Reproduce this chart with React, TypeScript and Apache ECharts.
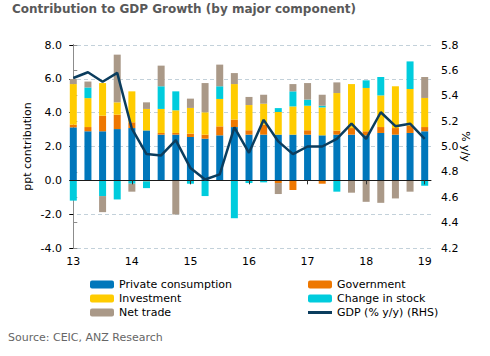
import React, { useEffect, useRef } from "react";
import * as echarts from "echarts";

const quarters = [
  "2013Q1","2013Q2","2013Q3","2013Q4","2014Q1","2014Q2","2014Q3","2014Q4",
  "2015Q1","2015Q2","2015Q3","2015Q4","2016Q1","2016Q2","2016Q3","2016Q4",
  "2017Q1","2017Q2","2017Q3","2017Q4","2018Q1","2018Q2","2018Q3","2018Q4","2019Q1",
];
const yearLabels = ["13", "14", "15", "16", "17", "18", "19"];
const yearTickIdx = [0, 4, 8, 12, 16, 20, 24];

const privateConsumption = [3.13,2.90,2.90,3.03,3.09,2.95,2.70,2.70,2.56,2.46,2.66,3.15,2.70,2.70,2.70,2.70,2.70,2.66,2.70,2.70,2.66,2.80,2.70,2.80,2.90];
const government = [0.16,0.25,0.92,0.85,0.34,-0.06,0.10,0.10,0.20,0.24,0.53,0.44,0.26,0.59,-0.16,-0.57,0.26,-0.20,0.24,0.39,0.24,0.35,0.39,0.43,0.25];
const investment = [2.40,1.71,1.93,0.73,1.83,1.27,1.42,1.34,1.52,1.32,1.62,2.10,1.49,1.24,1.34,1.67,1.45,1.65,2.22,2.60,2.56,1.87,2.47,2.17,1.72];
const changeInStock = [-1.20,0.63,-0.93,-1.13,-0.20,-0.40,1.34,1.12,-0.20,-0.93,0.75,-2.24,-0.16,-0.12,0.23,0.89,0.36,0.10,-0.67,0,0.45,1.09,0,1.63,-0.32];
const netTrade = [0.30,0.35,-0.95,2.82,-0.47,0.39,1.22,-2.02,0.55,1.73,1.28,0.65,0.48,0.53,-0.65,0.43,0.98,0.65,0.63,-0.73,-1.27,-1.33,-1.07,-0.67,1.24];
const gdpYoY = [5.54,5.585,5.51,5.58,5.14,4.94,4.93,5.05,4.83,4.74,4.78,5.15,4.95,5.21,5.04,4.94,5.00,5.00,5.06,5.18,5.06,5.27,5.16,5.18,5.06];

const FONT = "DejaVu Sans";

export default function App() {
  const ref = useRef<HTMLDivElement>(null);
  useEffect(() => {
    document.body.style.margin = "0";
    const chart = echarts.init(ref.current!, null, { renderer: "svg" });
    const bar = (name: string, data: number[], color: string) => ({
      name,
      type: "bar",
      stack: "total",
      barWidth: 7,
      clip: false,
      xAxisIndex: 0,
      yAxisIndex: 0,
      itemStyle: { color },
      data,
    });
    const legendText = { fontFamily: FONT, fontSize: 11, color: "#000", lineHeight: 13 };
    chart.setOption({
      animation: false,
      textStyle: { fontFamily: FONT },
      title: {
        text: "Contribution to GDP Growth (by major component)",
        left: 7,
        top: -2,
        textStyle: { fontFamily: FONT, fontSize: 12, fontWeight: "bold", color: "#595959" },
      },
      graphic: [
        {
          type: "text",
          left: 8,
          top: 332,
          style: { text: "Source: CEIC, ANZ Research", fontFamily: FONT, fontSize: 11, fill: "#666666" },
        },
      ],
      legend: [
        {
          orient: "vertical",
          left: 90,
          top: 278,
          padding: 0,
          itemWidth: 24,
          itemHeight: 8,
          itemGap: 1,
          icon: "roundRect",
          textStyle: legendText,
          data: ["Private consumption", "Investment", "Net trade"],
        },
        {
          orient: "vertical",
          left: 308,
          top: 278,
          padding: 0,
          itemWidth: 24,
          itemHeight: 8,
          itemGap: 1,
          textStyle: legendText,
          data: [
            { name: "Government", icon: "roundRect" },
            { name: "Change in stock", icon: "roundRect" },
            { name: "GDP (% y/y) (RHS)", icon: "path://M0 0H24V3H0Z" },
          ],
        },
      ],
      grid: [
        { left: 73.3, right: 65.3, top: 45, bottom: 108 },
        { left: 70, right: 59, top: 45, bottom: 108 },
      ],
      xAxis: [
        {
          type: "category",
          gridIndex: 0,
          data: quarters,
          boundaryGap: false,
          show: false,
        },
        {
          type: "value",
          gridIndex: 1,
          min: -0.225,
          max: 24.43,
          position: "bottom",
          axisLine: { show: false, onZero: false },
          axisTick: { show: false },
          splitLine: { show: false },
          axisLabel: {
            customValues: yearTickIdx,
            formatter: (v: number) => yearLabels[Math.round(v / 4)],
            fontFamily: FONT,
            fontSize: 11,
            color: "#000",
            margin: 8,
          },
        },
        {
          type: "value",
          gridIndex: 1,
          min: -0.225,
          max: 24.43,
          position: "bottom",
          z: 5,
          axisLine: { show: true, onZero: true, lineStyle: { color: "#1a1a1a", width: 1 } },
          axisTick: { show: true, customValues: yearTickIdx.slice(1), length: 4, lineStyle: { color: "#333" } },
          axisLabel: { show: false },
          splitLine: { show: false },
        },
      ],
      yAxis: [
        { type: "value", gridIndex: 0, min: -4, max: 8, show: false, splitLine: { show: false } },
        { type: "value", gridIndex: 0, min: 4.2, max: 5.8, show: false, splitLine: { show: false } },
        {
          type: "value",
          gridIndex: 1,
          min: -4,
          max: 8,
          interval: 2,
          position: "left",
          name: "ppt contribution",
          nameLocation: "middle",
          nameGap: 37,
          nameMoveOverlap: false,
          nameTextStyle: { fontFamily: FONT, fontSize: 11, color: "#000" },
          axisLine: { show: true, lineStyle: { color: "#000" } },
          axisTick: { show: true, length: 4, lineStyle: { color: "#000" } },
          axisLabel: { formatter: (v: number) => v.toFixed(1), fontFamily: FONT, fontSize: 11, color: "#000", margin: 8 },
          splitLine: { show: true, lineStyle: { type: [4, 3], color: "#c3d1da" } },
        },
        {
          type: "value",
          gridIndex: 1,
          min: 4.2,
          max: 5.8,
          interval: 0.2,
          position: "right",
          name: "% y/y",
          nameLocation: "middle",
          nameRotate: -90,
          nameGap: 29,
          nameMoveOverlap: false,
          nameTextStyle: { fontFamily: FONT, fontSize: 11, color: "#000" },
          axisLine: { show: true, lineStyle: { color: "#8c8c8c" } },
          axisTick: { show: true, length: 4, lineStyle: { color: "#8c8c8c" } },
          axisLabel: { formatter: (v: number) => v.toFixed(1), fontFamily: FONT, fontSize: 11, color: "#000", margin: 10 },
          splitLine: { show: false },
        },
      ],
      series: [
        bar("Private consumption", privateConsumption, "#0077BB"),
        bar("Government", government, "#EE7700"),
        bar("Investment", investment, "#FFCC00"),
        bar("Change in stock", changeInStock, "#00CCDD"),
        bar("Net trade", netTrade, "#AA9988"),
        {
          name: "GDP (% y/y) (RHS)",
          type: "line",
          xAxisIndex: 0,
          yAxisIndex: 1,
          symbol: "none",
          z: 10,
          clip: false,
          lineStyle: { color: "#0B3D5E", width: 2.5 },
          itemStyle: { color: "#0B3D5E" },
          data: gdpYoY,
        },
      ],
    });
    return () => chart.dispose();
  }, []);
  return <div ref={ref} style={{ width: 490, height: 356 }} />;
}
